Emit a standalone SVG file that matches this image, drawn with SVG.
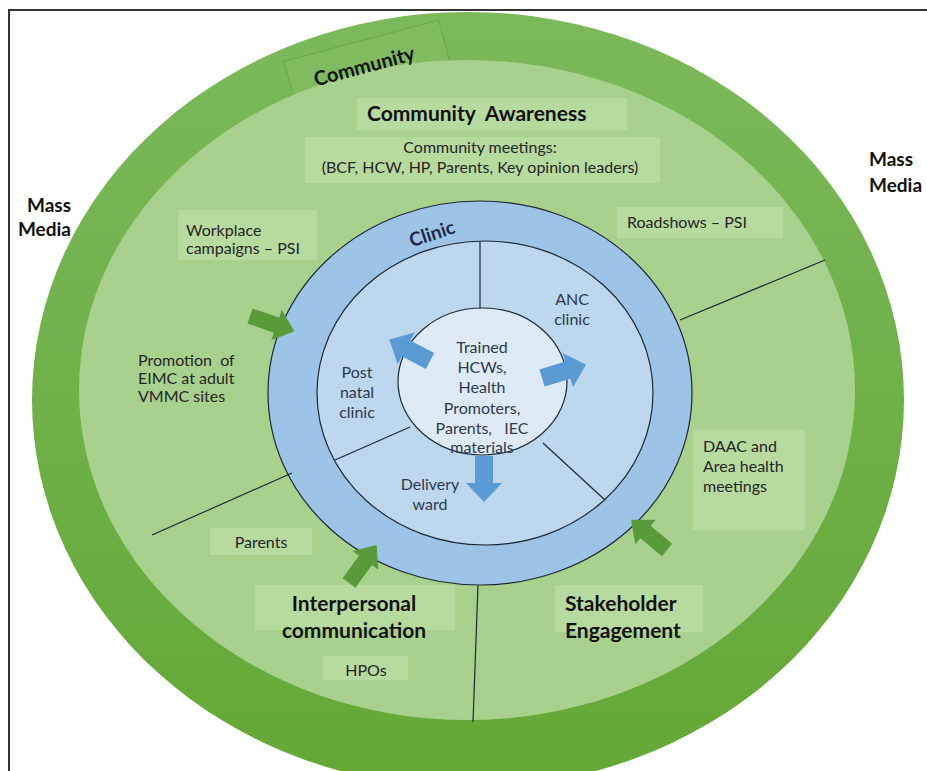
<svg xmlns="http://www.w3.org/2000/svg" width="927" height="771" viewBox="0 0 927 771">
<style>
  text { font-family: Lato, "Open Sans", "Liberation Sans", sans-serif; fill: #262626; }
  .lbl { font-size: 16px; }
  .big { font-size: 21px; font-weight: bold; fill: #111; }
  .mm { font-size: 19px; font-weight: bold; fill: #111; }
  .cl { font-size: 16px; fill: #2e3a4c; }
  .box { fill: #bfdea9; fill-opacity: 0.65; }
  .div { stroke: #1e2a35; stroke-width: 1.2; fill: none; }
  .ga { fill: #5b9a3b; }
  .ba { fill: #5b9bd5; }
</style>
<defs>
  <linearGradient id="gband" x1="0" y1="0" x2="0" y2="1">
    <stop offset="0" stop-color="#7cb95b"/>
    <stop offset="1" stop-color="#64a836"/>
  </linearGradient>
  <path id="arr" d="M0,-8 L28,-8 L28,-16 L47,0 L28,16 L28,8 L0,8 Z"/>
  <path id="barr" d="M0,-9 L27,-9 L27,-18 L46,0 L27,18 L27,9 L0,9 Z"/>
</defs>
<rect width="927" height="771" fill="#ffffff"/>
<path d="M927,10 H9 V771" fill="none" stroke="#333" stroke-width="2"/>

<g id="mass-media-left"><text class="mm" x="71" y="212" text-anchor="end">Mass</text><text class="mm" x="71" y="236" text-anchor="end">Media</text></g>
<g id="mass-media-right"><text class="mm" x="869" y="166">Mass</text><text class="mm" x="869" y="192">Media</text></g>

<g id="community">
  <ellipse cx="468" cy="400" rx="436" ry="388" fill="url(#gband)"/>
  <rect x="-80" y="-22" width="160" height="44" fill="#80bc5f" stroke="#6aa84a" stroke-width="1" transform="translate(367,62) rotate(-15)"/>
  <ellipse cx="467" cy="390" rx="388" ry="330" fill="#a9d18e"/>
  <text x="0" y="0" text-anchor="middle" font-size="20" font-weight="bold" style="fill:#111" transform="translate(366,73) rotate(-15)">Community</text>
</g>

<g id="community-awareness">
  <rect class="box" x="357" y="98" width="270" height="32"/>
  <text class="big" x="367" y="121" xml:space="preserve">Community  Awareness</text>
</g>
<g id="community-meetings">
  <rect class="box" x="305" y="137" width="355" height="46"/>
  <text class="lbl" x="480" y="153" text-anchor="middle" font-size="17">Community meetings:</text>
  <text class="lbl" x="480" y="173" text-anchor="middle" font-size="17">(BCF, HCW, HP, Parents, Key opinion leaders)</text>
</g>
<g id="workplace">
  <rect class="box" x="178" y="210" width="139" height="50"/>
  <text class="lbl" x="186" y="236">Workplace</text>
  <text class="lbl" x="186" y="254">campaigns – PSI</text>
</g>
<g id="roadshows">
  <rect class="box" x="617" y="207" width="166" height="31"/>
  <text class="lbl" x="627" y="228">Roadshows – PSI</text>
</g>
<g id="promotion">
  <text class="lbl" x="138" y="366" xml:space="preserve">Promotion  of</text>
  <text class="lbl" x="138" y="384">EIMC at adult</text>
  <text class="lbl" x="138" y="402">VMMC sites</text>
</g>
<g id="daac">
  <rect class="box" x="693" y="430" width="112" height="100"/>
  <text class="lbl" x="703" y="452">DAAC and</text>
  <text class="lbl" x="703" y="472">Area health</text>
  <text class="lbl" x="703" y="492">meetings</text>
</g>
<g id="parents">
  <rect class="box" x="210" y="528" width="102" height="27"/>
  <text class="lbl" x="261" y="548" text-anchor="middle">Parents</text>
</g>
<g id="interpersonal">
  <rect class="box" x="255" y="585" width="200" height="45"/>
  <text class="big" x="354" y="611" text-anchor="middle">Interpersonal</text>
  <text class="big" x="354" y="638" text-anchor="middle">communication</text>
</g>
<g id="hpos">
  <rect class="box" x="323" y="656" width="85" height="24"/>
  <text class="lbl" x="366" y="676" text-anchor="middle">HPOs</text>
</g>
<g id="stakeholder">
  <rect class="box" x="555" y="585" width="148" height="47"/>
  <text class="big" x="565" y="611">Stakeholder</text>
  <text class="big" x="565" y="638">Engagement</text>
</g>

<g id="clinic">
  <ellipse cx="480" cy="393" rx="212" ry="192" fill="#9dc3e6" stroke="#1e2a35" stroke-width="1.2"/>
  <ellipse cx="485" cy="393" rx="168" ry="152" fill="#bdd7ee" stroke="#1e2a35" stroke-width="1.2"/>
  <text x="0" y="0" text-anchor="middle" font-size="19" font-weight="bold" style="fill:#1f2a44" transform="translate(434,240) rotate(-18)">Clinic</text>
</g>
<g id="anc-clinic"><text class="cl" x="572" y="305" text-anchor="middle">ANC</text><text class="cl" x="572" y="325" text-anchor="middle">clinic</text></g>
<g id="post-natal-clinic"><text class="cl" x="357" y="378" text-anchor="middle">Post</text><text class="cl" x="357" y="398" text-anchor="middle">natal</text><text class="cl" x="357" y="418" text-anchor="middle">clinic</text></g>
<g id="delivery-ward"><text class="cl" x="430" y="490" text-anchor="middle">Delivery</text><text class="cl" x="430" y="510" text-anchor="middle">ward</text></g>
<g id="center">
  <ellipse cx="482.5" cy="381.5" rx="84.5" ry="73.5" fill="#deebf7" stroke="#1e2a35" stroke-width="1.2"/>
  <text class="cl" x="482" y="353" text-anchor="middle">Trained</text>
  <text class="cl" x="482" y="373" text-anchor="middle">HCWs,</text>
  <text class="cl" x="482" y="393" text-anchor="middle">Health</text>
  <text class="cl" x="482" y="414" text-anchor="middle">Promoters,</text>
  <text class="cl" x="482" y="434" text-anchor="middle" xml:space="preserve">Parents,   IEC</text>
  <text class="cl" x="482" y="453" text-anchor="middle">materials</text>
</g>

<g id="connectors">
  <line class="div" x1="480" y1="241" x2="480" y2="308"/>
  <line class="div" x1="410" y1="427" x2="335" y2="460"/>
  <line class="div" x1="543" y1="443" x2="605" y2="500"/>
  <line class="div" x1="680" y1="320" x2="825" y2="260"/>
  <line class="div" x1="292" y1="473" x2="152" y2="535"/>
  <line class="div" x1="478" y1="585" x2="473" y2="722"/>
  <use href="#arr" class="ga" transform="translate(250,316) rotate(19)"/>
  <use href="#arr" class="ga" transform="translate(349,583) rotate(-54)"/>
  <use href="#arr" class="ga" transform="translate(667,550) rotate(220)"/>
  <use href="#barr" class="ba" transform="translate(430,361) rotate(208)"/>
  <use href="#barr" class="ba" transform="translate(542,378) rotate(-17)"/>
  <use href="#barr" class="ba" transform="translate(484,456) rotate(90)"/>
</g>
</svg>
